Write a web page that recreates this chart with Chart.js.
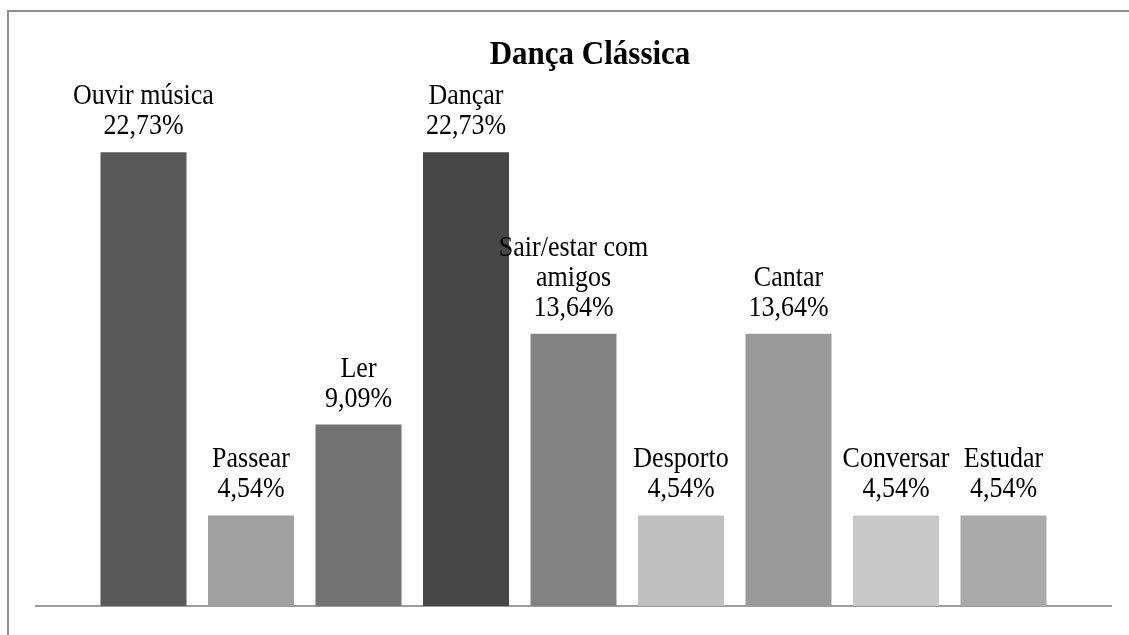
<!DOCTYPE html>
<html>
<head>
<meta charset="utf-8">
<script src="https://cdn.jsdelivr.net/npm/chart.js@4"></script>
<style>
    body { margin: 0; background: #fff; overflow: hidden; }
    .frame {
        position: absolute; left: 7px; top: 10px;
        width: 1200px; height: 700px;
        border: 2px solid #8f8f8f;
    }
    #chart { position: absolute; left: 0; top: 0; }
</style>
</head>
<body>
<div class="frame"></div>
<canvas id="chart" width="1129" height="635"></canvas>
<script>
// Chart data
const chartTitle = 'Dança Clássica';
const categories = ['Ouvir música', 'Passear', 'Ler', 'Dançar', ['Sair/estar com', 'amigos'],
    'Desporto', 'Cantar', 'Conversar', 'Estudar'];
const percentages = [22.73, 4.54, 9.09, 22.73, 13.64, 4.54, 13.64, 4.54, 4.54];
const barColors = ['#595959', '#a0a0a0', '#737373', '#474747', '#838383',
    '#c0c0c0', '#9a9a9a', '#c8c8c8', '#aaaaaa'];

const serif = "'Liberation Serif', 'Times New Roman', serif";

// the source text is a little taller than it is wide
function tallText(ctx, text, x, y) {
    ctx.save();
    ctx.translate(x, y);
    ctx.scale(1, 1.1);
    ctx.fillText(text, 0, 0);
    ctx.restore();
}

// Labels above each bar: category name(s) and the percentage
const barLabels = {
    id: 'barLabels',
    afterDatasetsDraw(chart) {
        const ctx = chart.ctx;
        const meta = chart.getDatasetMeta(0);
        ctx.save();
        ctx.fillStyle = '#000';
        ctx.font = '26px ' + serif;
        ctx.textAlign = 'center';
        ctx.textBaseline = 'alphabetic';
        meta.data.forEach((bar, i) => {
            const name = categories[i];
            const lines = (Array.isArray(name) ? name : [name]).concat(
                percentages[i].toFixed(2).replace('.', ',') + '%');
            let y = bar.y - 18;
            for (let j = lines.length - 1; j >= 0; j--) {
                tallText(ctx, lines[j], bar.x, y);
                y -= 30;
            }
        });
        ctx.restore();
    }
};

const titlePlugin = {
    id: 'titleText',
    afterDraw(chart) {
        const ctx = chart.ctx;
        ctx.save();
        ctx.fillStyle = '#000';
        ctx.font = 'bold 31px ' + serif;
        ctx.textAlign = 'center';
        tallText(ctx, chartTitle, 590, 64);
        ctx.restore();
    }
};

new Chart(document.getElementById('chart'), {
    type: 'bar',
    data: {
        datasets: [{
            data: percentages.map((v, i) => ({ x: i + 1, y: v })),
            backgroundColor: barColors,
            borderWidth: 0,
            categoryPercentage: 1.0,
            barPercentage: 0.8
        }]
    },
    options: {
        responsive: false,
        animation: false,
        layout: { padding: { left: 36, right: 18, top: 107, bottom: 29 } },
        plugins: {
            legend: { display: false },
            tooltip: { enabled: false },
            title: { display: false }
        },
        scales: {
            x: {
                type: 'linear',
                min: 0,
                max: 10,
                offset: false,
                ticks: { display: false },
                grid: { display: false, drawTicks: false },
                border: { display: true, color: '#9d9d9d', width: 2 }
            },
            y: {
                display: false,
                min: 0,
                max: 25
            }
        }
    },
    plugins: [barLabels, titlePlugin]
});
</script>
</body>
</html>
